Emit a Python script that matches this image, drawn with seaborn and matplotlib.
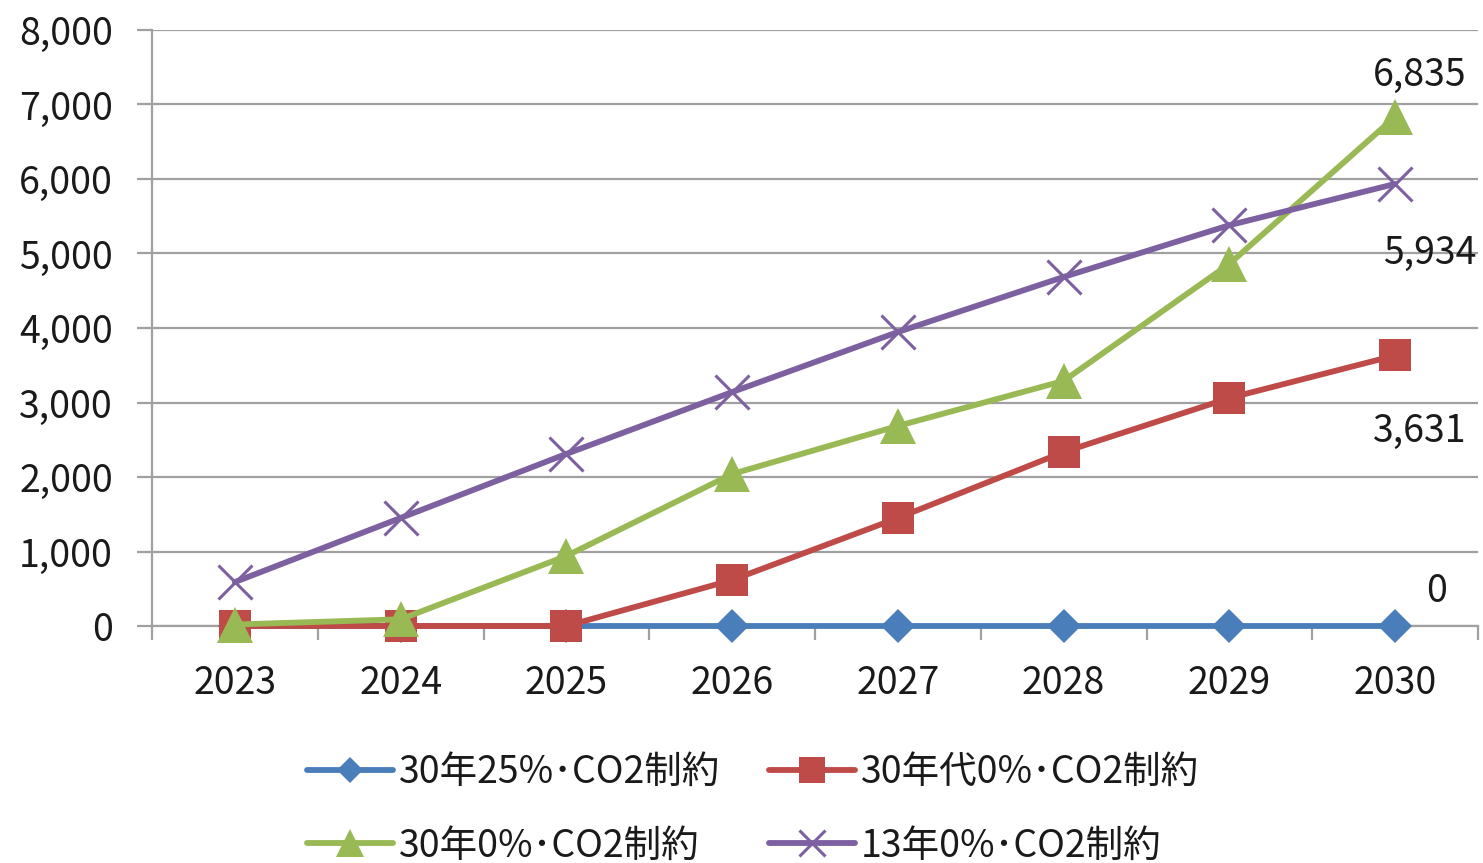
import matplotlib
matplotlib.use("Agg")
import matplotlib.pyplot as plt
from matplotlib.ticker import FixedLocator, FuncFormatter
import seaborn as sns
import numpy as np
import pandas as pd

# ---- data ----
years = [2023, 2024, 2025, 2026, 2027, 2028, 2029, 2030]
series_names = ["30年25%･CO2制約", "30年代0%･CO2制約", "30年0%･CO2制約", "13年0%･CO2制約"]
s_25pct = [0, 0, 0, 0, 0, 0, 0, 0]
s_30s_0pct = [0, 0, 0, 617, 1450, 2335, 3060, 3631]
s_30_0pct = [20, 90, 940, 2040, 2685, 3290, 4860, 6835]
s_13_0pct = [590, 1450, 2310, 3140, 3946, 4685, 5380, 5934]
series_values = [s_25pct, s_30s_0pct, s_30_0pct, s_13_0pct]

colors = ["#4a7ebb", "#be4b48", "#98b954", "#7d60a0"]
markers = ["D", "s", "^", "x"]
marker_sizes = [17, 23, 26, 24]

FS = 27

sns.set_theme(style="white")
plt.rcParams["font.family"] = ["Noto Sans CJK JP", "DejaVu Sans"]

fig = plt.figure(figsize=(14.83, 8.63), dpi=100)
ax = fig.add_axes([152 / 1483, 1 - 626 / 863, (1478 - 152) / 1483, (626 - 30) / 863])

for i, (name, vals, c, m, ms) in enumerate(zip(series_names, series_values, colors, markers, marker_sizes)):
    df = pd.DataFrame({"year": years, "value": vals})
    sns.lineplot(
        data=df, x="year", y="value", ax=ax, color=c, linewidth=4.2,
        marker=m, markersize=ms, markeredgecolor=c,
        markeredgewidth=2.2 if m == "x" else 0, label=name,
        clip_on=False, zorder=3 + i,
    )

# value labels at the last category
last = len(years) - 1
label_offsets = [(30, 25), (18, -55), (18, 30), (25, -50)]
for vals, off in zip(series_values, label_offsets):
    v = vals[last]
    ax.annotate(f"{v:,}", xy=(years[last], v), xytext=off, textcoords="offset points",
                ha="center", va="center", fontsize=FS, color="#1a1a1a")

# axes
ax.set_xlim(years[0] - 0.5, years[-1] + 0.5)
ax.set_ylim(0, 8000)
ax.yaxis.set_major_locator(FixedLocator(np.arange(0, 8001, 1000)))
ax.yaxis.set_major_formatter(FuncFormatter(lambda v, p: f"{int(v):,}"))
ax.set_xticks(years)
ax.set_xticklabels([str(y) for y in years])
ax.set_xticks(np.arange(years[0] - 0.5, years[-1] + 0.6, 1.0), minor=True)
ax.set_xlabel("")
ax.set_ylabel("")

ax.grid(axis="y", color="#a0a0a0", linewidth=1.6)
ax.grid(axis="x", visible=False)
ax.set_axisbelow(True)

for side in ["top", "right"]:
    ax.spines[side].set_visible(False)
for side in ["left", "bottom"]:
    ax.spines[side].set_color("#a0a0a0")
    ax.spines[side].set_linewidth(1.6)

ax.tick_params(axis="y", which="major", length=11, width=1.6, color="#a0a0a0",
               direction="out", pad=17, labelsize=FS, labelcolor="#1a1a1a", left=True)
ax.tick_params(axis="x", which="major", length=0, pad=27, labelsize=FS, labelcolor="#1a1a1a")
ax.tick_params(axis="x", which="minor", length=10, width=1.6, color="#a0a0a0",
               direction="out", bottom=True)

# legend: two rows, filled row by row
handles, labels = ax.get_legend_handles_labels()
order = [0, 2, 1, 3]
leg = ax.legend([handles[k] for k in order], [labels[k] for k in order],
                loc="upper left", bbox_to_anchor=(292 / 1483, 1 - 738 / 863),
                bbox_transform=fig.transFigure, ncol=2, frameon=False,
                fontsize=FS, handlelength=2.3, handletextpad=0.15,
                columnspacing=1.3, labelspacing=0.92, borderaxespad=0,
                markerscale=0.8)
for t in leg.get_texts():
    t.set_color("#1a1a1a")

fig.savefig("out.png", dpi=100)
